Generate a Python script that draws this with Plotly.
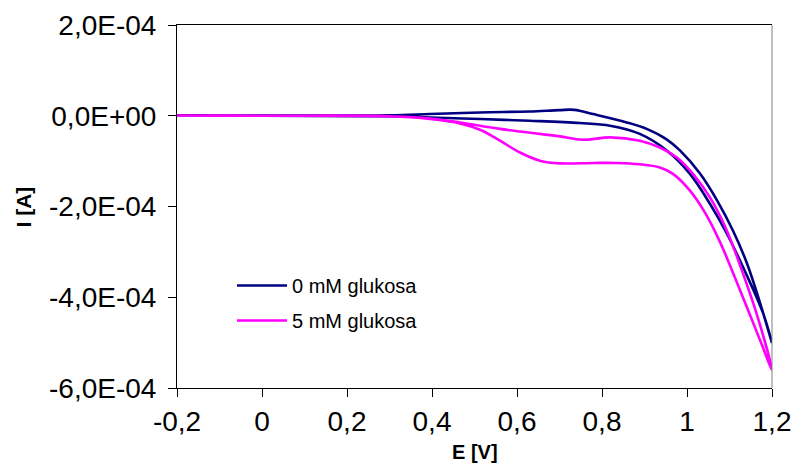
import plotly.graph_objects as go

# Cyclic voltammograms: forward branch then return branch (E in V, I in A)
E_0mM = [-0.2, 0.0, 0.2, 0.3, 0.395, 0.513, 0.63, 0.7, 0.735, 0.779, 0.858, 0.905, 0.952, 0.984, 1.031, 1.071, 1.108, 1.141, 1.172, 1.2,
         1.179, 1.132, 1.094, 1.054, 1.007, 0.953, 0.889, 0.819, 0.748, 0.63, 0.513, 0.395, 0.3, 0.0, -0.2]
I_0mM = [1.0e-6, 5e-7, 5e-7, 1.0e-6, 3.7e-6, 7.3e-6, 9.5e-6, 1.25e-5, 1.3e-5, 3.7e-6, -1.47e-5, -2.9e-5, -5.2e-5, -7.7e-5, -1.28e-4, -1.87e-4, -2.53e-4, -3.25e-4, -4.13e-4, -5.01e-4,
         -4.35e-4, -3.34e-4, -2.6e-4, -1.94e-4, -1.28e-4, -7.7e-5, -4.0e-5, -2.2e-5, -1.6e-5, -1.1e-5, -7.3e-6, -3.7e-6, -1.0e-6, 0.0, 1.0e-6]

E_5mM = [-0.2, 0.0, 0.2, 0.3, 0.395, 0.466, 0.56, 0.654, 0.701, 0.755, 0.819, 0.889, 0.936, 0.976, 1.014, 1.054, 1.085, 1.101, 1.125, 1.165, 1.2,
         1.172, 1.125, 1.078, 1.042, 1.007, 0.967, 0.936, 0.889, 0.835, 0.78, 0.701, 0.654, 0.607, 0.56, 0.513, 0.466, 0.395, 0.3, 0.0, -0.2]
I_5mM = [5e-7, 0.0, 0.0, -1.0e-6, -6.0e-6, -1.47e-5, -2.9e-5, -4.0e-5, -4.55e-5, -5.3e-5, -4.76e-5, -5.5e-5, -7.0e-5, -9.2e-5, -1.28e-4, -1.80e-4, -2.35e-4, -2.70e-4, -3.3e-4, -4.4e-4, -5.6e-4,
         -4.95e-4, -3.85e-4, -2.79e-4, -2.13e-4, -1.65e-4, -1.28e-4, -1.14e-4, -1.07e-4, -1.04e-4, -1.04e-4, -1.05e-4, -9.9e-5, -8.1e-5, -5.5e-5, -3.1e-5, -1.7e-5, -7.0e-6, -1.0e-6, 0.0, 5e-7]

series_names = ["0 mM glukosa", "5 mM glukosa"]
series_colors = ["#000080", "#FF00FF"]

x_tickvals = [-0.2, 0.0, 0.2, 0.4, 0.6, 0.8, 1.0, 1.2]
x_ticktext = ["-0,2", "0", "0,2", "0,4", "0,6", "0,8", "1", "1,2"]
y_tickvals = [-6e-4, -4e-4, -2e-4, 0.0, 2e-4]
y_ticktext = ["-6,0E-04", "-4,0E-04", "-2,0E-04", "0,0E+00", "2,0E-04"]

FONT = "Liberation Sans, Arial, sans-serif"

fig = go.Figure()
fig.add_trace(go.Scatter(x=E_0mM, y=I_0mM, mode="lines", name=series_names[0], legend="legend",
                         line=dict(color=series_colors[0], width=2.6, shape="spline", smoothing=1.0)))
fig.add_trace(go.Scatter(x=E_5mM, y=I_5mM, mode="lines", name=series_names[1], legend="legend2",
                         line=dict(color=series_colors[1], width=2.6, shape="spline", smoothing=1.0)))

leg_common = dict(xanchor="left", yanchor="top", bgcolor="rgba(0,0,0,0)",
                  font=dict(size=20, family=FONT), itemwidth=50)

fig.update_layout(
    width=794, height=466,
    margin=dict(l=177, r=22, t=25, b=78),
    paper_bgcolor="white", plot_bgcolor="white",
    font=dict(family=FONT, color="black"),
    showlegend=True,
    legend=dict(x=(232 - 177) / 595, y=(388 - 266) / 363, **leg_common),
    legend2=dict(x=(232 - 177) / 595, y=(388 - 301) / 363, **leg_common),
    xaxis=dict(range=[-0.2, 1.2], tickvals=x_tickvals, ticktext=x_ticktext,
               showgrid=False, zeroline=False, showline=True, linecolor="black",
               linewidth=1, mirror=True, ticks="outside", ticklen=8, tickcolor="black",
               tickfont=dict(size=28, family=FONT), automargin=False),
    yaxis=dict(range=[-6e-4, 2e-4], tickvals=y_tickvals, ticktext=y_ticktext,
               showgrid=False, zeroline=False, showline=True, linecolor="black",
               linewidth=1, ticks="outside", ticklen=8, tickcolor="black",
               tickfont=dict(size=28, family=FONT), automargin=False,
               ticklabelstandoff=6),
    annotations=[
        dict(text="<b>E [V]</b>", xref="paper", yref="paper", x=0.5, y=-(465 - 388) / 363,
             xanchor="center", yanchor="bottom", showarrow=False, font=dict(size=20, family=FONT)),
        dict(text="<b>I [A]</b>", xref="paper", yref="paper", x=-(177 - 23) / 595, y=0.5,
             xanchor="center", yanchor="middle", showarrow=False, textangle=-90,
             font=dict(size=21, family=FONT)),
    ],
    shapes=[dict(type="line", xref="paper", yref="paper", x0=1, x1=1, y0=0, y1=1,
                 line=dict(color="#808080", width=1))],
)

fig.write_html("out.html")
